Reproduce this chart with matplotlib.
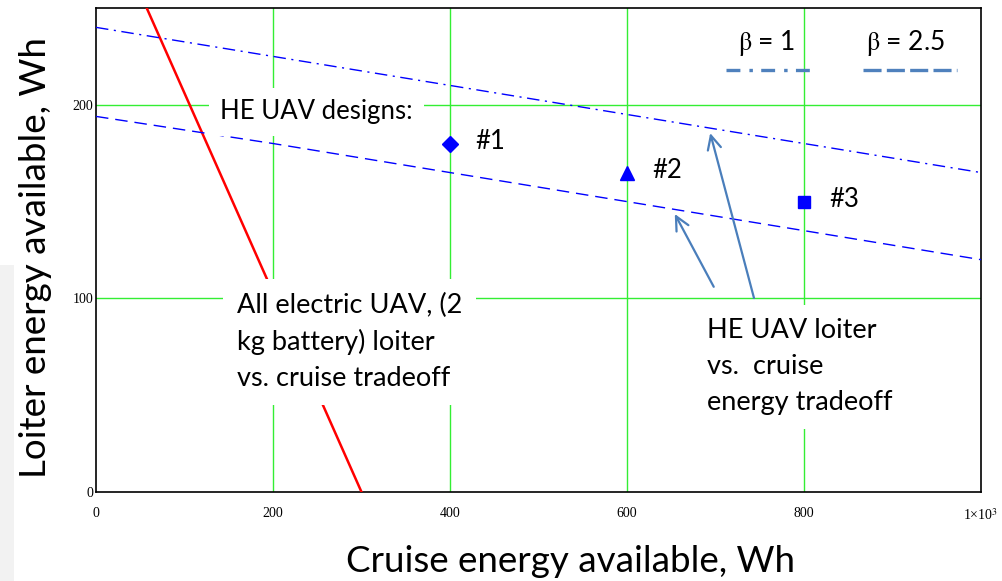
import matplotlib
matplotlib.use("Agg")
import matplotlib.pyplot as plt
from matplotlib.lines import Line2D
from matplotlib.patches import Rectangle

plt.rcParams['font.family'] = ['Lato', 'DejaVu Sans']
plt.rcParams['mathtext.fontset'] = 'stix'
plt.rcParams['lines.scale_dashes'] = False

# ---- data ----
electric_cruise = [0, 100, 200, 300]
electric_loiter = [309, 206, 103, 0]

he_cruise = [0, 200, 400, 600, 800, 1000]
beta1_loiter = [240, 225, 210, 195, 180, 165]
beta25_loiter = [194, 180, 165, 150, 135, 120]

design_cruise = [400, 600, 800]
design_loiter = [180, 165, 150]
design_names = ['#1', '#2', '#3']
design_markers = ['D', '^', 's']

x_ticks = [0, 200, 400, 600, 800, 1000]
x_tick_labels = ['0', '200', '400', '600', '800', r'1×10$^{3}$']
y_ticks = [0, 100, 200]
y_tick_labels = ['0', '100', '200']

# ---- figure ----
fig = plt.figure(figsize=(10.02, 5.81), dpi=100)
fig.patches.append(Rectangle((0, 0), 14 / 1002, (581 - 265) / 581,
                             transform=fig.transFigure, facecolor='#f2f2f2',
                             edgecolor='none', zorder=-1))
ax = fig.add_axes([96 / 1002, 1 - 492 / 581, 885 / 1002, 484 / 581])
ax.set_xlim(0, 1000)
ax.set_ylim(0, 250)

grid_c = '#33ee33'
for gx in [200, 400, 600, 800]:
    ax.axvline(gx, color=grid_c, lw=1.0, zorder=1)
for gy in [100, 200]:
    ax.axhline(gy, color=grid_c, lw=1.0, zorder=1)

ax.set_xticks(x_ticks)
ax.set_xticklabels(x_tick_labels, family='Liberation Serif', fontsize=10)
ax.set_yticks(y_ticks)
ax.set_yticklabels(y_tick_labels, family='Liberation Serif', fontsize=10)
ax.tick_params(axis='x', length=0, pad=11)
ax.tick_params(axis='y', length=0, pad=2)
for s in ax.spines.values():
    s.set_linewidth(1.2)
    s.set_color('black')

ax.plot(electric_cruise, electric_loiter, color='red', lw=1.8, zorder=3)
ax.plot(he_cruise, beta1_loiter, color='blue', lw=1.0, dashes=(9, 4, 1.5, 4), zorder=3)
ax.plot(he_cruise, beta25_loiter, color='blue', lw=1.0, dashes=(9, 5), zorder=3)

for xv, yv, m, name in zip(design_cruise, design_loiter, design_markers, design_names):
    ms = {'D': 8, '^': 10, 's': 8}[m]
    ax.plot([xv], [yv], marker=m, color='blue', markersize=ms, ls='none', zorder=4)
    ax.text(xv + 29, yv + 1, name, fontsize=18.5, ha='left', va='center', zorder=5)

txt_kw = dict(ha='left', va='center', zorder=6)
ax.text(140, 196.3, 'HE UAV designs:', fontsize=18.5,
        bbox=dict(facecolor='white', edgecolor='none', pad=8), **txt_kw)
ax.text(159, 77.5, 'All electric UAV, (2\nkg battery) loiter\nvs. cruise tradeoff',
        fontsize=19.5, linespacing=1.55,
        bbox=dict(facecolor='white', edgecolor='none', pad=10), **txt_kw)
ax.text(690, 64.6, 'HE UAV loiter\nvs.  cruise\nenergy tradeoff',
        fontsize=19.5, linespacing=1.55,
        bbox=dict(facecolor='white', edgecolor='none', pad=10), **txt_kw)

arrow_c = '#4a7ebb'
arrows = [((698, 106), (654, 143.6)), ((743.5, 100.2), (694, 185.4))]
for tail, head in arrows:
    ax.annotate('', xy=head, xytext=tail, zorder=7,
                arrowprops=dict(arrowstyle='->,head_length=0.45,head_width=0.22',
                                color=arrow_c, lw=1.6, shrinkA=0, shrinkB=0,
                                mutation_scale=22))

# legend drawn as slide overlay
leg_c = '#4f81bd'
ax.text(0.758, 0.928, r'$\mathrm{\beta}$ = 1', transform=ax.transAxes, fontsize=19,
        ha='center', va='center', zorder=6)
ax.text(0.915, 0.928, r'$\mathrm{\beta}$ = 2.5', transform=ax.transAxes, fontsize=19,
        ha='center', va='center', zorder=6)
ax.add_line(Line2D([0.712, 0.809], [0.872, 0.872], transform=ax.transAxes,
                   color=leg_c, lw=2.4, dashes=(10, 6.5, 2.5, 6), zorder=6))
ax.add_line(Line2D([0.867, 0.973], [0.872, 0.872], transform=ax.transAxes,
                   color=leg_c, lw=2.4, dashes=(13, 3.8), zorder=6))

fig.text(570 / 1002, 1 - 561 / 581, 'Cruise energy available, Wh', fontsize=26.5,
         ha='center', va='center')
fig.text(36 / 1002, 1 - 258 / 581, 'Loiter energy available, Wh', fontsize=26.5,
         ha='center', va='center', rotation=90)

fig.savefig('out.png', dpi=100)
